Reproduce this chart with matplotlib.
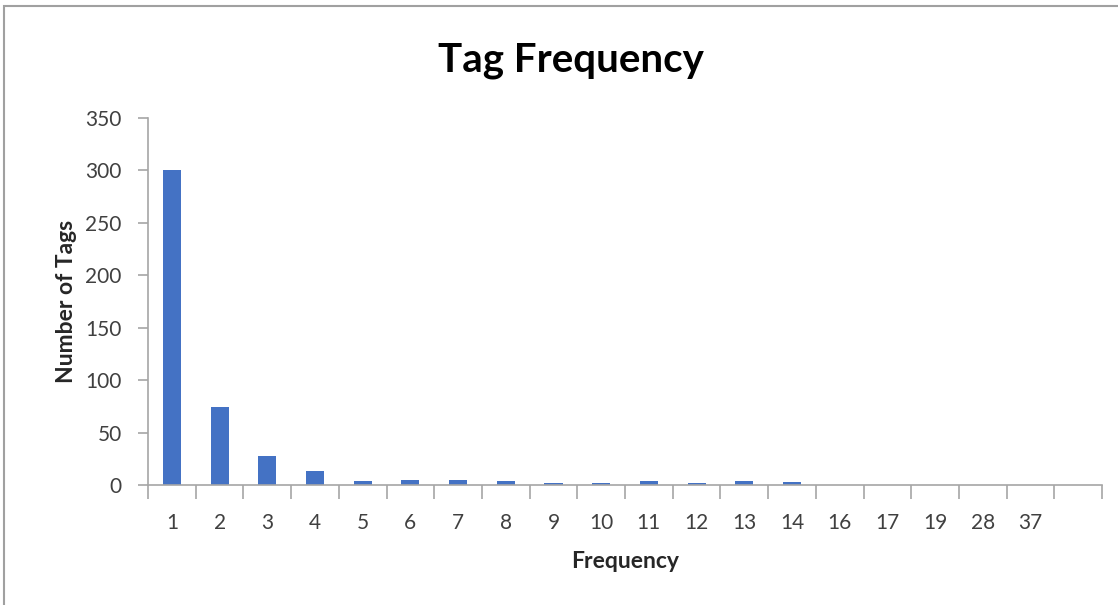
import numpy as np
import matplotlib.pyplot as plt
from matplotlib.patches import Rectangle

# tag frequency histogram (last slot is an empty category)
categories = ["1", "2", "3", "4", "5", "6", "7", "8", "9", "10",
              "11", "12", "13", "14", "16", "17", "19", "28", "37", ""]
tag_counts = [300, 74, 28, 13, 4, 5, 5, 4, 1.5, 1.5,
              4, 1.5, 4, 3, 0, 0, 0, 0, 0, 0]

plt.rcParams['font.family'] = ['Lato', 'DejaVu Sans']

fig = plt.figure(figsize=(11.18, 6.05), dpi=100)
ax = fig.add_axes([0.1324, 0.1983, 0.8533, 0.6067])

x = np.arange(len(categories))
ax.bar(x, tag_counts, width=0.38, color='#4472C4', zorder=2)

ax.set_xlim(-0.5, len(categories) - 0.5)
ax.set_ylim(0, 350)
ax.set_yticks(np.arange(0, 351, 50))

# labels in the middle of each slot, tick marks between slots
ax.set_xticks(x)
ax.set_xticklabels(categories)
ax.set_xticks(np.arange(-0.5, len(categories)), minor=True)
ax.tick_params(axis='x', which='major', length=0, pad=20,
               labelsize=15, labelcolor='#404040')
ax.tick_params(axis='x', which='minor', length=10, width=1.2, color='#a6a6a6')
ax.tick_params(axis='y', length=7, width=1.2, color='#a6a6a6', pad=12,
               labelsize=15, labelcolor='#404040')

for side in ['top', 'right']:
    ax.spines[side].set_visible(False)
for side in ['left', 'bottom']:
    ax.spines[side].set_color('#a6a6a6')
    ax.spines[side].set_linewidth(1.2)

ax.set_xlabel('Frequency', fontsize=16.5, fontweight='bold', color='#262626', labelpad=13)
ax.set_ylabel('Number of Tags', fontsize=16.5, fontweight='bold', color='#262626', labelpad=6)
fig.text(0.511, 0.9, 'Tag Frequency', ha='center', va='center',
         fontsize=29, fontweight='bold', color='black')

# chart area border
fig.patches.append(Rectangle((4 / 1118, -0.1), 1.2, 1 - 6 / 605 + 0.1,
                             transform=fig.transFigure, fill=False,
                             edgecolor='#a0a0a0', linewidth=1.5))

fig.savefig('out.png', dpi=100)
